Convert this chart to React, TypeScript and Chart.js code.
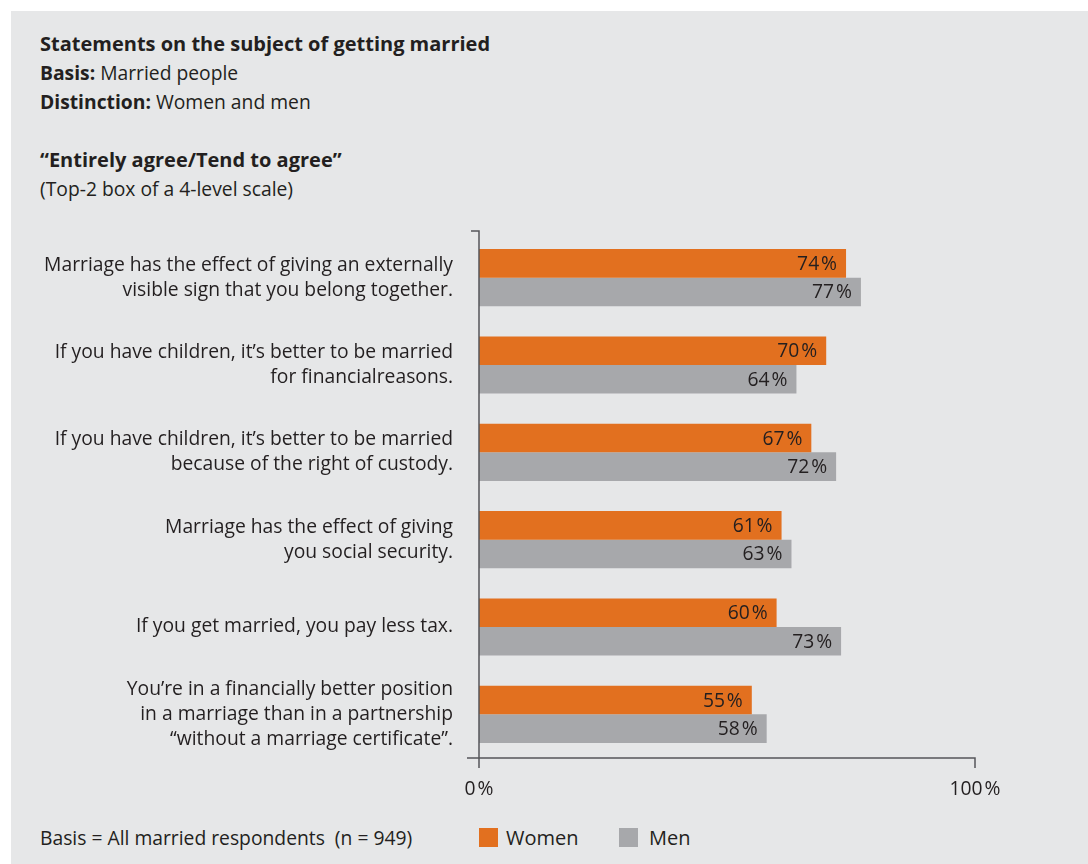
import React, { useEffect, useRef } from "react";
import { Chart, registerables } from "chart.js";

Chart.register(...registerables);

const categories: (string | string[])[] = [
  ["Marriage has the effect of giving an externally", "visible sign that you belong together."],
  ["If you have children, it\u2019s better to be married", "for financialreasons."],
  ["If you have children, it\u2019s better to be married", "because of the right of custody."],
  ["Marriage has the effect of giving", "you social security."],
  "If you get married, you pay less tax.",
  [
    "You\u2019re in a financially better position",
    "in a marriage than in a partnership",
    "\u201cwithout a marriage certificate\u201d.",
  ],
];
const women = [74, 70, 67, 61, 60, 55];
const men = [77, 64, 72, 63, 73, 58];
const xTickValues = [0, 100];

const ORANGE = "#e2701f";
const GRAY = "#a7a8ab";
const BG = "#e6e7e8";
const TEXT = "#231f20";
const AXIS = "#555659";
const FONT = "'Open Sans', sans-serif";
const FS = 19.3;
const PCT = "\u200a%";

const extrasPlugin = {
  id: "extras",
  afterDatasetsDraw(chart: any) {
    const { ctx, chartArea } = chart;
    ctx.save();
    ctx.font = `${FS}px ${FONT}`;
    ctx.fillStyle = TEXT;
    ctx.textAlign = "right";
    ctx.textBaseline = "middle";
    chart.data.datasets.forEach((ds: any, di: number) => {
      const meta = chart.getDatasetMeta(di);
      meta.data.forEach((el: any, i: number) => {
        ctx.fillText(`${ds.data[i]}${PCT}`, el.x - 9, el.y + 1);
      });
    });
    const x = chart.scales.x;
    const left = chartArea.left;
    const bottom = chartArea.bottom;
    ctx.strokeStyle = AXIS;
    ctx.lineWidth = 1.5;
    ctx.beginPath();
    ctx.moveTo(left - 8, chartArea.top - 3);
    ctx.lineTo(left, chartArea.top - 3);
    ctx.lineTo(left, bottom + 10);
    ctx.moveTo(left - 12, bottom);
    ctx.lineTo(x.getPixelForValue(100), bottom);
    ctx.lineTo(x.getPixelForValue(100), bottom + 10);
    ctx.stroke();
    ctx.restore();
  },
};

export default function App() {
  const ref = useRef<HTMLCanvasElement | null>(null);
  useEffect(() => {
    if (!ref.current) return;
    const chart = new Chart(ref.current, {
      type: "bar",
      data: {
        labels: categories,
        datasets: [
          { label: "Women", data: women, backgroundColor: ORANGE, categoryPercentage: 0.655, barPercentage: 1 },
          { label: "Men", data: men, backgroundColor: GRAY, categoryPercentage: 0.655, barPercentage: 1 },
        ],
      },
      options: {
        indexAxis: "y",
        animation: false,
        responsive: false,
        devicePixelRatio: 1,
        layout: { padding: { top: 14, right: 113, left: 0, bottom: 0 } },
        plugins: { legend: { display: false }, tooltip: { enabled: false } },
        scales: {
          x: {
            min: 0,
            max: 100,
            grid: { display: false, drawTicks: false, tickLength: 0 },
            border: { display: false },
            afterBuildTicks: (s: any) => {
              s.ticks = xTickValues.map((v) => ({ value: v }));
            },
            afterFit: (s: any) => {
              s.height = 50;
              s.paddingLeft = 0;
              s.paddingRight = 0;
            },
            ticks: {
              padding: 20,
              color: TEXT,
              font: { family: FONT, size: FS },
              callback: (v: any) => `${v}${PCT}`,
            },
          },
          y: {
            grid: { display: false, drawTicks: false, tickLength: 0 },
            border: { display: false },
            afterFit: (s: any) => {
              s.width = 468;
              s.paddingTop = 0;
              s.paddingBottom = 0;
            },
            ticks: {
              padding: 26,
              color: TEXT,
              font: { family: FONT, size: FS, lineHeight: 25 / FS },
            },
          },
        },
      },
      plugins: [extrasPlugin],
    });
    return () => chart.destroy();
  }, []);

  const line: React.CSSProperties = { height: 29, lineHeight: "29px", whiteSpace: "nowrap" };
  return (
    <div
      style={{
        position: "absolute",
        left: 11,
        top: 11,
        width: 1077,
        height: 853,
        background: BG,
        fontFamily: FONT,
        fontSize: FS,
        color: TEXT,
        overflow: "hidden",
      }}
    >
      <div style={{ position: "absolute", left: 29, top: 18 }}>
        <div style={{ ...line, fontWeight: 700, fontSize: 20 }}>Statements on the subject of getting married</div>
        <div style={line}>
          <b>Basis:</b> Married people
        </div>
        <div style={line}>
          <b>Distinction:</b> Women and men
        </div>
        <div style={line}></div>
        <div style={{ ...line, fontWeight: 700, fontSize: 20 }}>{"\u201cEntirely agree/Tend to agree\u201d"}</div>
        <div style={line}>(Top-2 box of a 4-level scale)</div>
      </div>
      <canvas
        ref={ref}
        width={1077}
        height={588}
        style={{ position: "absolute", left: 0, top: 209, width: 1077, height: 588 }}
      />
      <div style={{ position: "absolute", left: 29, top: 812, ...line }}>
        Basis = All married respondents&nbsp; (n = 949)
      </div>
      <div style={{ position: "absolute", left: 468, top: 817, width: 19, height: 19, background: ORANGE }} />
      <div style={{ position: "absolute", left: 495, top: 812, ...line, fontSize: 20 }}>Women</div>
      <div style={{ position: "absolute", left: 608, top: 817, width: 19, height: 19, background: GRAY }} />
      <div style={{ position: "absolute", left: 638, top: 812, ...line, fontSize: 20 }}>Men</div>
    </div>
  );
}
